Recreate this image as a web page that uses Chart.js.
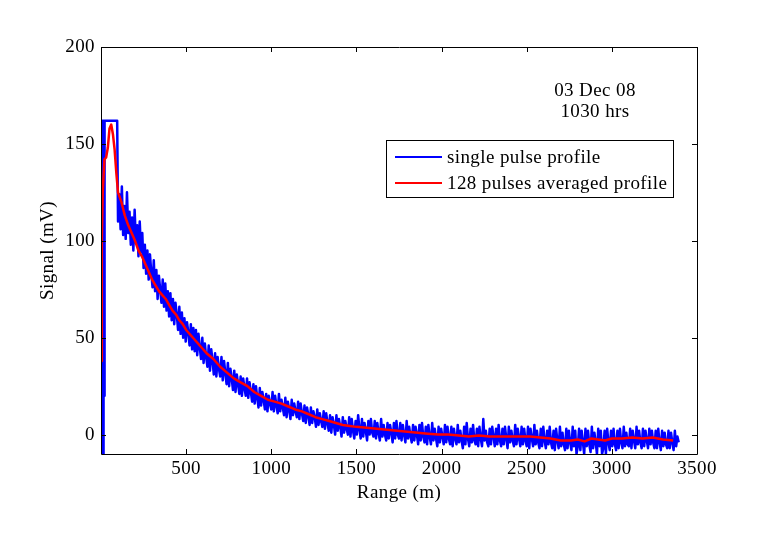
<!DOCTYPE html>
<html>
<head>
<meta charset="utf-8">
<script src="https://cdn.jsdelivr.net/npm/chart.js@4.4.1/dist/chart.umd.min.js"></script>
<style>html,body{margin:0;padding:0;background:#fff;}canvas{display:block;}</style>
</head>
<body>
<canvas id="c" width="771" height="537"></canvas>
<script>
// ---- data ----
const xTicks = [500, 1000, 1500, 2000, 2500, 3000, 3500];
const yTicks = [0, 50, 100, 150, 200];
const dateLabel = ["03 Dec 08", "1030 hrs"];
const seriesNames = ["single pulse profile", "128 pulses averaged profile"];

// single pulse profile: saturated head (explicit ranges) then samples every 7.5 m from 100 m
const blueHeadX = [0, 3, 6, 9, 12, 15, 18, 21, 24, 95];
const blueHeadY = [-10, 162, -10, 162, -10, 162, 20, 162, 162, 162];
const blueStart = 100;
const blueStep = 7.5;
const blueY = [
 110,124,106,128,103,118,101,125,104,115,98,112,95,116,99,108,92,110,94,104,
 86,98,83,95,80,93,84,76,90,74,85,70,82,75,68,80,66,78,64,74,
 61,73,59,70,57,68,62,54,66,52,63,50,60,48,58,53,46,57,44,55,
 43,54,41,52,45,39,50,37,47,40,35,46,33,44,38,31,42,30,40,34,
 30,40,28,38,32,26,37,25,34,29,23,33,22,31,26,21,30,20,29,24,
 20,29,19,27,22,17,26,16,25,19,14,24,15,22,18,13,21,12,20,16,
 13,22,12,20,15,11,21,12,18,14,10,19,9,17,13,8,18,10,16,12,
 9,17,8,16,11,7,15,6,14,10,5,14,6,12,9,4,13,5,11,7,
 4,12,3,11,6,2,10,1,9,5,0,10,2,8,4,-1,9,1,7,3,
 0,9,-1,8,2,-2,7,0,10,3,-2,8,-1,6,2,-3,7,0,8,1,
 -1,7,-2,6,1,-3,8,-1,5,0,-3,6,-2,5,1,-4,6,-2,7,0,
 -2,6,-3,5,0,-4,7,-2,4,-1,-4,5,-3,4,0,-5,5,-3,6,-1,
 -4,4,-5,5,-1,-5,6,-3,3,-2,-6,4,-4,3,-1,-5,5,-4,4,-2,
 -5,4,-6,3,-2,-5,5,-4,2,-3,-7,4,-5,6,-2,-6,3,-4,5,-3,
 -5,3,-6,4,-2,-6,8,-3,2,-4,-6,3,-5,4,-1,-6,3,-5,5,-3,
 -6,3,-5,4,-2,-7,4,-4,2,-3,-6,5,-5,3,-2,-6,4,-5,3,-3,
 -6,4,-7,3,-2,-6,5,-5,2,-4,-7,3,-6,4,-3,-7,2,-5,4,-4,
 -7,2,-8,3,-3,-7,4,-6,1,-5,-8,3,-7,2,-4,-8,4,-6,2,-10,
 -6,3,-8,2,-4,-10,3,-6,2,-5,-9,4,-7,1,-4,-10,3,-6,2,-10,
 -7,2,-10,3,-4,-8,2,-6,3,-5,-8,2,-7,3,-4,-7,4,-6,1,-5,
 -6,3,-7,2,-3,-7,4,-5,2,-4,-7,3,-6,2,-3,-7,3,-5,2,-4,
 -7,2,-7,3,-4,-8,2,-6,1,-5,-7,2,-7,1,-4,-8,2,-6,-1,-4
];

// 128 pulses averaged profile
const redX = [0,5,10,20,30,40,50,60,70,80,90,100,120,140,160,180,200,220,240,260,
 280,300,320,340,360,380,400,420,440,460,480,500,540,580,620,660,700,740,780,820,
 860,900,940,980,1020,1060,1100,1140,1180,1220,1260,1300,1340,1380,1420,1460,1500,1560,1620,1680,
 1740,1800,1860,1920,1980,2040,2100,2160,2220,2280,2340,2400,2460,2520,2580,2640,2700,2760,2800,2840,
 2880,2920,2960,3000,3060,3120,3180,3240,3300,3360];
const redY = [38,100,125,142,143,148,158,160,155,147,135,125,120,113,108,104,100,95,92,88,
 84,80,77,74,72,70,67,64,62,59,57,54,50,46,42,39,35,32,29,27,
 25,22,20,18,17,16,14.5,13,12,10.5,9,8,7,6,5,4.5,4,3.5,3,2.5,
 2,1.5,1,0.5,0,0,-0.5,-1,-0.5,-1,-1,-1,-1,-1,-1.5,-2,-3,-3,-2.5,-3.5,
 -2,-2.5,-3,-2,-2,-1.5,-2,-1.5,-2.5,-3];

// ---- build library data ----
const bluePts = blueHeadX.map((x, i) => ({x: x, y: blueHeadY[i]}))
  .concat(blueY.map((y, i) => ({x: blueStart + i * blueStep, y: y})));
const redPts = redX.map((x, i) => ({x: x, y: redY[i]}));

const FONT = "'Liberation Serif', 'Times New Roman', serif";
const FS = 19;
const LS = '0.4px';

const spacingPlugin = {
  id: 'spacing',
  beforeDraw(chart) { chart.ctx.letterSpacing = LS; }
};

const framePlugin = {
  id: 'frame',
  afterDraw(chart) {
    const ctx = chart.ctx;
    const a = chart.chartArea;
    const xs = chart.scales.x, ys = chart.scales.y;
    ctx.save();
    ctx.letterSpacing = LS;
    ctx.strokeStyle = '#000';
    ctx.lineWidth = 1;
    ctx.beginPath();
    ctx.rect(Math.round(a.left) + 0.5, Math.round(a.top) + 0.5,
             Math.round(a.right - a.left), Math.round(a.bottom - a.top));
    ctx.stroke();
    const L = 5;
    ctx.beginPath();
    xTicks.forEach(v => {
      const px = Math.round(xs.getPixelForValue(v)) + 0.5;
      ctx.moveTo(px, a.bottom); ctx.lineTo(px, a.bottom - L);
      ctx.moveTo(px, a.top); ctx.lineTo(px, a.top + L);
    });
    yTicks.forEach(v => {
      const py = Math.round(ys.getPixelForValue(v)) + 0.5;
      ctx.moveTo(a.left, py); ctx.lineTo(a.left + L, py);
      ctx.moveTo(a.right, py); ctx.lineTo(a.right - L, py);
    });
    ctx.stroke();

    // date annotation
    ctx.fillStyle = '#000';
    ctx.font = FS + 'px ' + FONT;
    ctx.textAlign = 'center';
    ctx.textBaseline = 'middle';
    ctx.fillText(dateLabel[0], 595, 91);
    ctx.fillText(dateLabel[1], 595, 112);

    // legend box
    const lx = 386, ly = 140, lw = 287, lh = 57;
    ctx.fillStyle = '#fff';
    ctx.fillRect(lx, ly, lw, lh);
    ctx.strokeStyle = '#000';
    ctx.strokeRect(lx + 0.5, ly + 0.5, lw, lh);
    const colors = ['#0000ff', '#ff0000'];
    const rows = [157, 183];
    rows.forEach((ry, i) => {
      ctx.strokeStyle = colors[i];
      ctx.lineWidth = 2;
      ctx.beginPath();
      ctx.moveTo(395, ry); ctx.lineTo(442, ry);
      ctx.stroke();
      ctx.fillStyle = '#000';
      ctx.textAlign = 'left';
      ctx.textBaseline = 'middle';
      ctx.fillText(seriesNames[i], 447, ry + 1);
    });
    ctx.restore();
  }
};

new Chart(document.getElementById('c'), {
  type: 'line',
  data: {
    datasets: [
      {label: seriesNames[1], data: redPts, borderColor: '#ff0000', borderWidth: 2.5,
       borderJoinStyle: 'round', pointRadius: 0, tension: 0, fill: false},
      {label: seriesNames[0], data: bluePts, borderColor: '#0000ff', borderWidth: 2.5,
       borderJoinStyle: 'round', pointRadius: 0, tension: 0, fill: false}
    ]
  },
  options: {
    responsive: false,
    animation: false,
    devicePixelRatio: 1,
    layout: {padding: {left: 0, right: 74, top: 47, bottom: 33}},
    plugins: {legend: {display: false}, tooltip: {enabled: false}},
    scales: {
      x: {
        type: 'linear', min: 0, max: 3500,
        border: {display: false},
        grid: {display: false, drawTicks: false},
        afterBuildTicks: s => { s.ticks = xTicks.map(v => ({value: v})); },
        afterFit: s => { s.height = 50; },
        ticks: {color: '#000', padding: 4, maxRotation: 0, font: {family: FONT, size: FS},
                callback: v => String(v)},
        title: {display: true, text: 'Range (m)', color: '#000', padding: {top: 0, bottom: 0},
                font: {family: FONT, size: FS}}
      },
      y: {
        type: 'linear', min: -10, max: 200,
        border: {display: false},
        grid: {display: false, drawTicks: false},
        afterBuildTicks: s => { s.ticks = yTicks.map(v => ({value: v})); },
        afterFit: s => { s.width = 101; },
        ticks: {color: '#000', padding: 6, font: {family: FONT, size: FS},
                callback: v => String(v)},
        title: {display: true, text: 'Signal (mV)', color: '#000', padding: {top: 37, bottom: 0},
                font: {family: FONT, size: FS}}
      }
    }
  },
  plugins: [spacingPlugin, framePlugin]
});
</script>
</body>
</html>
